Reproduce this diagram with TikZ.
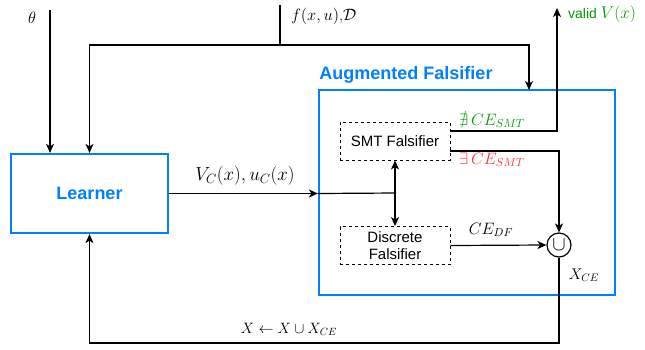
\RequirePackage{fix-cm}
\documentclass[tikz,border=0pt]{standalone}
\usepackage{amsmath, amssymb}
\usepackage[no-math]{fontspec}
\setsansfont{Liberation Sans}
\usetikzlibrary{arrows.meta}
\definecolor{boxblue}{RGB}{0,127,255}
\definecolor{okgreen}{RGB}{0,153,0}
\definecolor{cered}{RGB}{255,51,51}

\begin{document}
\begin{tikzpicture}[x = 1pt, y = -1pt, >={Stealth[length=9pt, width=8pt, inset=2.5pt]}]
\tikzstyle{BlockStyle}=[draw = boxblue, line width = 2.2pt,
                         font = \sffamily\bfseries\fontsize{18}{21}\selectfont,
                         text = boxblue, inner sep = 0pt]
\tikzstyle{SubStyle}=[draw, dashed, dash pattern = on 3pt off 3pt, line width = 0.9pt,
                      font = \sffamily\fontsize{15}{18}\selectfont,
                      align = center, inner sep = 0pt,
                      minimum width = 110pt, minimum height = 38pt]
\tikzstyle{Wire}=[line width = 1.2pt]
\tikzstyle{MathLabel}=[font = \fontsize{16.5}{19}\selectfont, inner sep = 0pt]
\useasboundingbox (0,0) rectangle (645,349);
% blocks
\node[BlockStyle, minimum width = 157pt, minimum height = 79pt] (learner) at (89.5,193.5) {Learner};
\node[BlockStyle, minimum width = 296pt, minimum height = 205pt] (aug) at (467,192.5) {};
\node[font = \sffamily\bfseries\fontsize{18}{21}\selectfont, text = boxblue, inner sep = 0pt] (augname) at (406,75) {Augmented Falsifier};
\node[SubStyle] (smt) at (395,141) {SMT Falsifier};
\node[SubStyle, font = \sffamily\fontsize{15}{17}\selectfont] (disc) at (395,245.5) {Discrete\\Falsifier};
\node[draw, circle, line width = 1.2pt, minimum size = 24pt, inner sep = 0pt,
      font = \fontsize{20}{20}\selectfont] (cup) at (559,245) {$\cup$};
% free ends
\coordinate (thetain) at (50,10);
\coordinate (fin) at (280,5);
\coordinate (fjoin) at (280,45);
\coordinate (augin) at (529,90);
\coordinate (validout) at (557,8);
\coordinate (split) at (396,193);
\coordinate (fb) at (559,343);
% connectors
\draw[Wire, ->] (thetain) -- (learner.north -| thetain);
\draw[Wire] (fin) -- (fjoin);
\draw[Wire, ->] (fjoin) -| (learner.north);
\draw[Wire, ->] (fjoin) -| (augin);
\draw[Wire, ->] (learner.east) -- (learner.east -| aug.west);
\draw[Wire] (learner.east -| aug.west) -- (split);
\draw[Wire, <->] (smt.south) -- (disc.north);
\draw[Wire, ->] ([yshift=10pt]smt.east) -| (validout);
\draw[Wire, ->] ([yshift=-10pt]smt.east) -| (cup.north);
\draw[Wire, ->] (disc.east) -- (cup.west);
\draw[Wire, ->] (cup.south) -- (fb) -| (learner.south);
% labels
\node[MathLabel] (thetalbl) at (32,18) {$\theta$};
\node[MathLabel, anchor = west] (flbl) at (291,16) {$f(x,u)$,$\mathcal{D}$};
\node[anchor = west, inner sep = 0pt, text = okgreen] (validlbl) at (568,14) {\sffamily\fontsize{14}{17}\selectfont valid \fontsize{17}{19}\selectfont$V(x)$};
\node[MathLabel, text = okgreen] (nolbl) at (492,121) {$\nexists\, CE_{SMT}$};
\node[MathLabel, text = cered] (yeslbl) at (492,160) {$\exists\, CE_{SMT}$};
\node[MathLabel, font = \fontsize{19}{21}\selectfont] (vclbl) at (245,176) {$V_C(x), u_C(x)$};
\node[MathLabel] (dflbl) at (491,230) {$CE_{DF}$};
\node[MathLabel, font = \fontsize{15.5}{18}\selectfont] (xcelbl) at (584,275) {$X_{CE}$};
\node[MathLabel, font = \fontsize{15}{17}\selectfont] (updlbl) at (289,329) {$X \leftarrow X \cup X_{CE}$};
\end{tikzpicture}
\end{document}
